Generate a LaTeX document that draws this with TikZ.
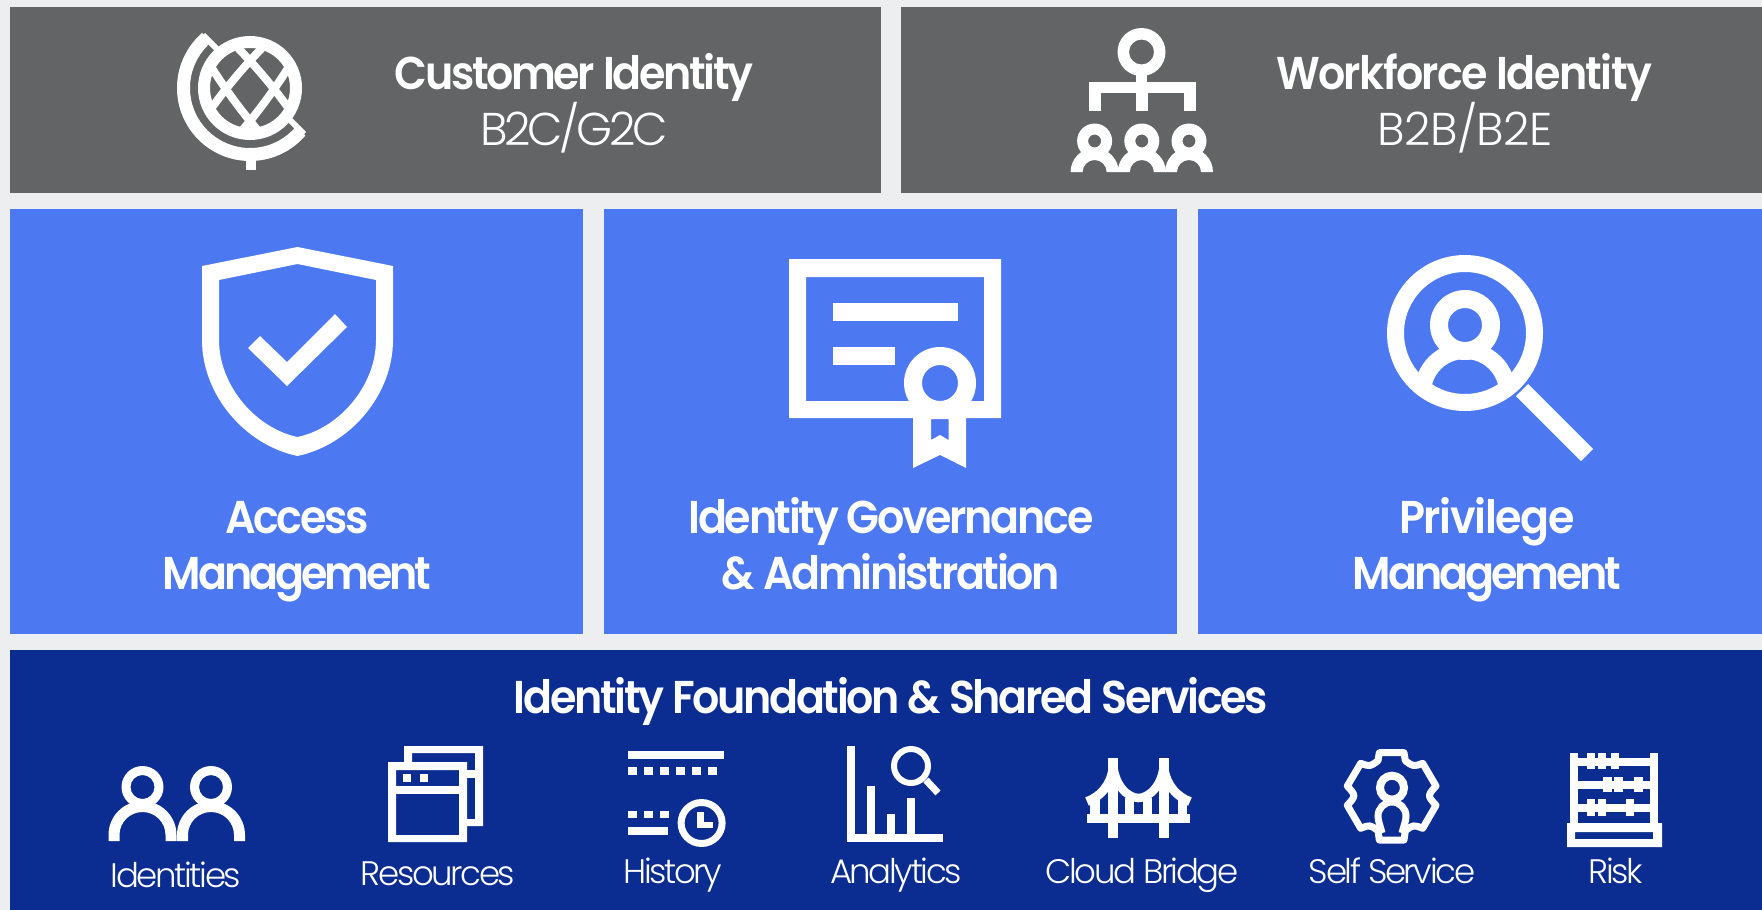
\documentclass[tikz,border=0pt]{standalone}
\usepackage{fontspec}
\usepackage{color}
\newfontfamily\headfont[LetterSpace=-5,FakeStretch=0.93]{Poppins SemiBold}
\newfontfamily\subfont[LetterSpace=-7]{Poppins Light}
\definecolor{pagegrey}{HTML}{ECEEF0}
\definecolor{boxgrey}{HTML}{636466}
\definecolor{boxblue}{HTML}{4C78F2}
\definecolor{boxnavy}{HTML}{0B2D91}
\tikzset{
	headtext/.style={text=white,inner sep=0pt,anchor=base,font=\headfont\fontsize{46}{56}\selectfont,align=center},
	subtext/.style={text=white,inner sep=0pt,anchor=base,font=\subfont\fontsize{46}{56}\selectfont},
	smalltext/.style={text=white,inner sep=0pt,anchor=base,font=\subfont\fontsize{34}{40}\selectfont},
	icon/.style={white,line width=#1},
	icon/.default=8
}
% one person: head x, head y, head radii, body y, body radii, foot y
\newcommand{\personicon}[8]{
	\fill[white,even odd rule] (#1,#2) circle (#3) (#1,#2) circle (#4);
	\fill[white] (#1-#6,#8) -- (#1-#6,#5) arc[start angle=180,end angle=360,radius=#6] -- (#1+#6,#8) -- (#1+#7,#8) -- (#1+#7,#5) arc[start angle=360,end angle=180,radius=#7] -- (#1-#7,#8) -- cycle;
}
\begin{document}
\begin{tikzpicture}[x=1pt,y=1pt,yscale=-1]
	\useasboundingbox (0,0) rectangle (1762,910);
	\fill[pagegrey] (0,0) rectangle (1762,910);
	% boxes
	\fill[boxgrey] (10,7) rectangle (881,193);
	\fill[boxgrey] (901,7) rectangle (1762,193);
	\fill[boxblue] (10,209) rectangle (583,634);
	\fill[boxblue] (604,209) rectangle (1177,634);
	\fill[boxblue] (1198,209) rectangle (1762,634);
	\fill[boxnavy] (10,650) rectangle (1762,910);
	% texts
	\node[headtext] (customer) at (574,89) {Customer Identity};
	\node[subtext] (btoc) at (574,145) {B2C/G2C};
	\node[headtext] (workforce) at (1464,89) {\addfontfeatures{LetterSpace=-3.5}Workforce Identity};
	\node[subtext] (btob) at (1465,145) {\addfontfeatures{LetterSpace=-1}B2B/B2E};
	\node[headtext] (access) at (297,533) {Access};
	\node[headtext] (accessb) at (297,589) {\addfontfeatures{LetterSpace=-6.7}Management};
	\node[headtext] (governance) at (891,533) {Identity Governance};
	\node[headtext] (governanceb) at (891,589) {\& Administration};
	\node[headtext] (privilege) at (1487,533) {\addfontfeatures{LetterSpace=-3}Privilege};
	\node[headtext] (privilegeb) at (1487,589) {\addfontfeatures{LetterSpace=-6.7}Management};
	\node[headtext] (foundation) at (891,713) {Identity Foundation \& Shared Services};
	\node[smalltext] (identities) at (176,887) {Identities};
	\node[smalltext] (resources) at (438,885) {Resources};
	\node[smalltext] (history) at (673,883) {History};
	\node[smalltext] (analytics) at (896,883) {Analytics};
	\node[smalltext] (bridge) at (1142,883) {Cloud Bridge};
	\node[smalltext] (selfservice) at (1392,883) {Self Service};
	\node[smalltext] (risk) at (1616,883) {Risk};
	% globe
	\begin{scope}
		\clip (250,88) circle (44);
		\draw[icon=8] (230,40) .. controls (260.7,70.3) and (287.3,103.7) .. (310,140);
		\draw[icon=8] (210,65) .. controls (232.7,101.3) and (259.3,134.7) .. (290,165);
		\draw[icon=8] (270,40) .. controls (239.3,70.3) and (212.7,103.7) .. (190,140);
		\draw[icon=8] (290,65) .. controls (267.3,101.3) and (240.7,134.7) .. (210,165);
	\end{scope}
	\fill[white,even odd rule] (250,88) circle (52) (250,88) circle (40);
	\begin{scope}
		\clip (201,32) -- (307,137) -- (307,200) -- (120,200) -- (120,32) -- cycle;
		\fill[white,even odd rule] (250,88) circle (73) (250,88) circle (60);
	\end{scope}
	\draw[icon=6] (203,35) -- (220,52);
	\draw[icon=6] (304,134) -- (288,118);
	\fill[white] (246,155) rectangle (256,170);
	% org chart
	\fill[white,even odd rule] (1141.5,52) circle (24) (1141.5,52) circle (12.5);
	\fill[white] (1136,74) rectangle (1147,85);
	\fill[white] (1089,82) rectangle (1196,93);
	\foreach \a in {1089,1136,1184}
		\fill[white] (\a,85) rectangle ++(12,26);
	\foreach \a in {1094.6,1141.8,1189}
		\personicon{\a}{141}{17.5}{6.5}{172}{24}{12}{172};
	% shield
	\fill[white,even odd rule] (297.5,247) -- (393,266) -- (393,340) .. controls (393,395) and (350,445) .. (297.5,456) .. controls (245,445) and (202,395) .. (202,340) -- (202,266) -- cycle
		(297.5,264) -- (376,280) -- (376,340) .. controls (376,385) and (340,428) .. (297.5,437) .. controls (255,428) and (219,385) .. (219,340) -- (219,280) -- cycle;
	\fill[white] (248,348) -- (260,336) -- (287,362) -- (335,314) -- (347,327) -- (287,386) -- cycle;
	% certificate
	\fill[white,even odd rule] (789,259) rectangle (1001,418) (806,277) rectangle (984,401);
	\fill[white] (833,303) rectangle (958,321);
	\fill[white] (833,347) rectangle (895,365);
	\fill[white,even odd rule] (913,410) -- (913,468) -- (940,455) -- (966,468) -- (966,410) -- cycle
		(931,419) -- (931,440) -- (940,435) -- (948.5,440) -- (948.5,419) -- cycle;
	\fill[white,even odd rule] (940,383) circle (36) (940,383) circle (18);
	% magnifier
	\begin{scope}
		\clip (1465,333) circle (70);
		\fill[white,even odd rule] (1465,393) circle (51) (1465,393) circle (34);
	\end{scope}
	\fill[white,even odd rule] (1465,325) circle (35) (1465,325) circle (17);
	\fill[white,even odd rule] (1465,333) circle (78) (1465,333) circle (61);
	\draw[icon=17] (1522,390) -- (1587,455);
	% people
	\personicon{142.5}{787}{21}{12}{835}{34}{23}{841};
	\personicon{211}{787}{21}{12}{835}{34}{23}{841};
	% windows
	\fill[white,even odd rule] (404,746) rectangle (483,826) (412,753) rectangle (475,819);
	\fill[white] (467,770) rectangle (483,778);
	\fill[boxnavy] (388,762) rectangle (467,842);
	\fill[white,even odd rule] (388,762) rectangle (467,842) (396,770) rectangle (459,835);
	\fill[white] (396,786) rectangle (459,794);
	\foreach \a in {403,420}
		\fill[white] (\a,774) rectangle ++(8,8);
	% history
	\fill[white] (628,751) rectangle (724,759);
	\foreach \a in {628,644,660,676,692,708}
		\fill[white] (\a,767) rectangle ++(9,8);
	\foreach \a in {628,644,660}
		\fill[white] (\a,811) rectangle ++(9,7);
	\fill[white] (628,827) rectangle (668,835);
	\fill[white,even odd rule] (701.6,823) circle (24) (701.6,823) circle (17);
	\fill[white] (697,812) rectangle (704,828);
	\fill[white] (697,822) rectangle (713,828);
	% analytics
	\fill[white] (847,746) rectangle (855,842);
	\fill[white] (847,834) rectangle (943,842);
	\fill[white] (867,786) rectangle (875,842);
	\fill[white] (887,814) rectangle (895,842);
	\fill[white] (907,798) rectangle (915,842);
	\fill[white,even odd rule] (911,766) circle (20) (911,766) circle (14);
	\draw[icon=7] (926,780) -- (938,793);
	% bridge
	\fill[white] (1087,814) rectangle (1190,823);
	\fill[white] (1108,758) rectangle (1117.5,838);
	\fill[white] (1159,758) rectangle (1169,838);
	\draw[icon=8.5] (1113,760) .. controls (1113,785) and (1128,798) .. (1138.5,798) .. controls (1149,798) and (1164,785) .. (1164,760);
	\draw[icon=9] (1113,768) .. controls (1111,785) and (1100,797) .. (1087,801.5);
	\draw[icon=9] (1164,768) .. controls (1166,785) and (1177,797) .. (1190,801.5);
	\foreach \a/\b in {1090/10,1125/9,1143/9,1178/9}
		\fill[white] (\a,798) rectangle ++(\b,20);
	% gear
	\draw[icon=7,line join=round] (1379.3,752.7) -- (1404,752.7) -- (1405.3,760.7) .. controls (1413.3,766.7) .. (1422.7,763.3) -- (1436,786) .. controls (1427.3,795.7) .. (1436,805.3) -- (1422.7,828.3) .. controls (1413.3,824.7) .. (1405.3,830.7) -- (1404,840) -- (1379.3,840) -- (1378,830.7) .. controls (1370,824.7) .. (1360.7,828.3) -- (1347.3,805.3) .. controls (1356,795.7) .. (1347.3,786) -- (1360.7,763.3) .. controls (1370,766.7) .. (1378,760.7) -- cycle;
	\draw[icon=8] (1392,787.7) circle (12);
	\draw[icon=7] (1382,833) .. controls (1380,825) and (1378,821) .. (1378,816) arc[start angle=180,end angle=360,radius=14] .. controls (1406,821) and (1404,825) .. (1402,833);
	% abacus
	\fill[white] (1570,753) rectangle (1578,825);
	\fill[white] (1650,753) rectangle (1658,825);
	\foreach \a in {758,781,804}
		\fill[white] (1570,\a) rectangle (1658,\a+7.5);
	\fill[white,even odd rule] (1567,823) rectangle (1662,847) (1575,832) rectangle (1653,839);
	\foreach \a in {1587,1598,1611}
		\fill[white] (\a,753) rectangle ++(8,16);
	\foreach \a in {1603,1614,1634}
		\fill[white] (\a,777) rectangle ++(8.5,15);
	\foreach \a in {1587,1598,1626}
		\fill[white] (\a,799) rectangle ++(8,17);
\end{tikzpicture}
\end{document}
